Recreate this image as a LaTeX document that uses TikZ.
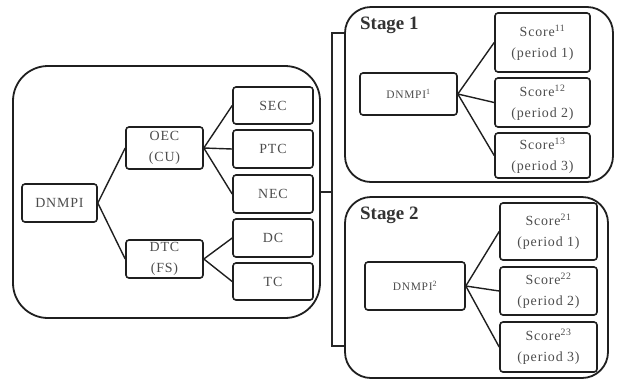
\documentclass[tikz,border=0pt]{standalone}
\usepackage{fontspec}
\setmainfont{Liberation Serif}
\newfontfamily\boxfont[LetterSpace=6]{Liberation Serif}
\begin{document}
\begin{tikzpicture}[x=1bp,y=-1bp,
  outer/.style={draw=black!88, line width=1.8bp, inner sep=0pt},
  inbox/.style={draw=black!88, line width=1.6bp, rounded corners=3bp, inner sep=0pt,
    align=center, text=black!70, font=\boxfont\fontsize{14}{21}\selectfont},
  smallbox/.style={inbox, font=\boxfont\fontsize{11.5}{13}\selectfont},
  link/.style={draw=black!88, line width=1.4bp},
  bracket/.style={draw=black!85, line width=2.2bp},
  stagelbl/.style={anchor=base west, inner sep=0pt, text=black!80,
    font=\bfseries\fontsize{19}{21}\selectfont}]
\useasboundingbox (0,0) rectangle (619,380);

% outer containers
\node[outer, rounded corners=35bp, minimum width=307bp, minimum height=252bp] (L) at (166.5,192) {};
\node[outer, rounded corners=26bp, minimum width=268bp, minimum height=175bp] (S1) at (479,94.5) {};
\node[outer, rounded corners=26bp, minimum width=263bp, minimum height=181bp] (S2) at (476.5,287.5) {};

\node[stagelbl] (t1) at (360,29) {Stage 1};
\node[stagelbl] (t2) at (360,219) {Stage 2};

% left tree
\node[inbox, minimum width=75bp, minimum height=38bp] (dn) at (59.5,203) {DNMPI};
\node[inbox, minimum width=77bp, minimum height=42bp] (oec) at (164.5,148) {OEC\\(CU)};
\node[inbox, minimum width=77bp, minimum height=38bp] (dtc) at (164.5,259) {DTC\\(FS)};
\node[inbox, minimum width=80bp, minimum height=37bp] (sec) at (273,105.5) {SEC};
\node[inbox, minimum width=80bp, minimum height=38bp] (ptc) at (273,149) {PTC};
\node[inbox, minimum width=80bp, minimum height=38bp] (nec) at (273,194) {NEC};
\node[inbox, minimum width=80bp, minimum height=38bp] (dc) at (273,238) {DC};
\node[inbox, minimum width=80bp, minimum height=37bp] (tc) at (273,281.5) {TC};

\draw[link] (dn.east) -- (oec.west);
\draw[link] (dn.east) -- (dtc.west);
\draw[link] (oec.east) -- (sec.west);
\draw[link] (oec.east) -- (ptc.west);
\draw[link] (oec.east) -- (nec.west);
\draw[link] (dtc.east) -- (dc.west);
\draw[link] (dtc.east) -- (tc.west);

% stage 1
\node[smallbox, minimum width=97bp, minimum height=42bp] (d1) at (408.5,94) {DNMPI\textsuperscript{1}};
\node[inbox, minimum width=95bp, minimum height=59bp] (s11) at (542.5,42.5) {Score\textsuperscript{11}\\(period 1)};
\node[inbox, minimum width=95bp, minimum height=49bp] (s12) at (542.5,102.5) {Score\textsuperscript{12}\\(period 2)};
\node[inbox, minimum width=95bp, minimum height=45bp] (s13) at (542.5,155.5) {Score\textsuperscript{13}\\(period 3)};
\draw[link] (d1.east) -- (s11.west);
\draw[link] (d1.east) -- (s12.west);
\draw[link] (d1.east) -- (s13.west);

% stage 2
\node[smallbox, minimum width=100bp, minimum height=48bp] (d2) at (415,286) {DNMPI\textsuperscript{2}};
\node[inbox, minimum width=97bp, minimum height=57bp] (s21) at (548.5,231.5) {Score\textsuperscript{21}\\(period 1)};
\node[inbox, minimum width=97bp, minimum height=48bp] (s22) at (548.5,291) {Score\textsuperscript{22}\\(period 2)};
\node[inbox, minimum width=97bp, minimum height=50bp] (s23) at (548.5,347) {Score\textsuperscript{23}\\(period 3)};
\draw[link] (d2.east) -- (s21.west);
\draw[link] (d2.east) -- (s22.west);
\draw[link] (d2.east) -- (s23.west);

% bracket
\coordinate (bt) at (332,33);
\coordinate (bb) at (332,346);
\draw[bracket] (S1.west |- bt) -- (bt) -- (bb) -- (S2.west |- bb);
\draw[bracket] (L.east) -- (L.east -| bt);
\end{tikzpicture}
\end{document}
